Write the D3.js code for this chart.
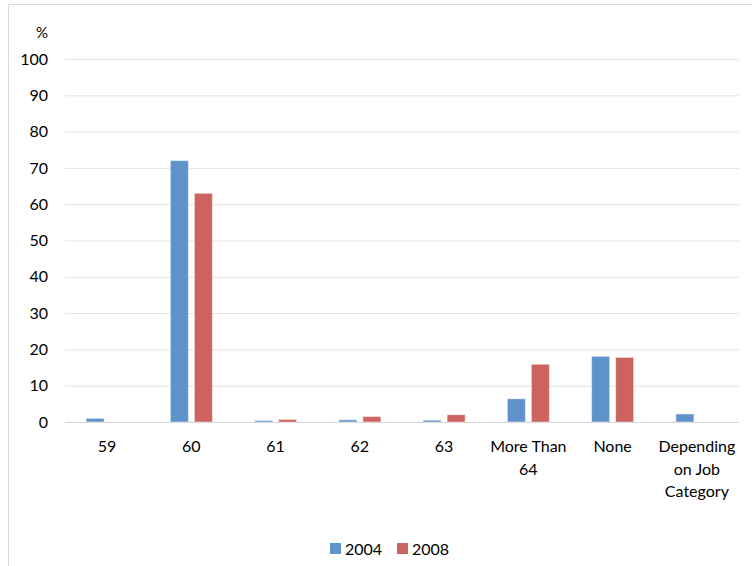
<!DOCTYPE html>
<html>
<head>
<meta charset="utf-8">
<script src="https://cdn.jsdelivr.net/npm/d3@7"></script>
<style>
  html, body { margin: 0; padding: 0; background: #fff; }
  svg { display: block; font-family: Lato, "Open Sans", sans-serif; }
</style>
</head>
<body>
<svg id="chart" width="752" height="566"></svg>
<script>
// Retirement age categories and the share (%) reported in each survey year
const categories = ["59", "60", "61", "62", "63", "More Than 64", "None", "Depending on Job Category"];
const categoryLines = [["59"], ["60"], ["61"], ["62"], ["63"], ["More Than", "64"], ["None"], ["Depending", "on Job", "Category"]];
const years = ["2004", "2008"];
const values2004 = [1.0, 72, 0.4, 0.6, 0.5, 6.4, 18.1, 2.2];
const values2008 = [0, 63, 0.7, 1.5, 2.0, 15.9, 17.8, 0];
const yTicks = [0, 10, 20, 30, 40, 50, 60, 70, 80, 90, 100];
const colors = ["#5E93CB", "#CC635E"];

const svg = d3.select("#chart");

// outer frame (extends past the right and bottom edges)
svg.append("rect")
  .attr("x", 8.5).attr("y", 4.5)
  .attr("width", 760).attr("height", 580)
  .attr("fill", "none").attr("stroke", "#D9D9D9");

const margin = { left: 65, right: 13, top: 59, bottom: 144 };
const width = 752 - margin.left - margin.right;
const height = 566 - margin.top - margin.bottom;

const g = svg.append("g").attr("transform", `translate(${margin.left},${margin.top})`);

const x = d3.scaleBand().domain(categories).range([0, width]).paddingInner(0).paddingOuter(0);
const x1 = d3.scaleBand().domain(years).range([x.bandwidth() / 2 - 21, x.bandwidth() / 2 + 21]).paddingInner(0.25);
const y = d3.scaleLinear().domain([0, 100]).range([height, 0]);

// horizontal gridlines
const yAxis = d3.axisLeft(y).tickValues(yTicks).tickSize(-width).tickPadding(17);
const ya = g.append("g").call(yAxis);
ya.select(".domain").remove();
ya.selectAll(".tick line").attr("stroke", "#E3E3E3").attr("stroke-width", 1);
ya.selectAll(".tick text").attr("fill", "#000").attr("font-size", 16).attr("font-family", "Lato, sans-serif");
ya.selectAll(".tick").filter(d => d === 0).select("line").attr("stroke", "#D4D4D4");

// unit label
g.append("text").attr("x", -23).attr("y", y(100) - 21)
  .attr("text-anchor", "middle").attr("font-size", 15).attr("fill", "#000").text("%");

// bars
const series = [values2004, values2008];
const groups = g.selectAll(".cat").data(categories).join("g")
  .attr("class", "cat")
  .attr("transform", d => `translate(${x(d)},0)`);

groups.each(function (c, i) {
  const sel = d3.select(this);
  years.forEach((yr, k) => {
    const v = series[k][i];
    if (v <= 0) return;
    sel.append("rect")
      .attr("x", x1(yr))
      .attr("width", x1.bandwidth())
      .attr("y", y(v))
      .attr("height", y(0) - y(v))
      .attr("fill", colors[k])
      .attr("stroke", "rgba(255,255,255,0.45)")
      .attr("stroke-width", 1);
  });
});

// category labels
groups.append("text")
  .attr("text-anchor", "middle")
  .attr("font-size", 16)
  .attr("fill", "#000")
  .selectAll("tspan")
  .data((d, i) => categoryLines[i])
  .join("tspan")
  .attr("x", x.bandwidth() / 2)
  .attr("y", (d, j) => height + 30 + j * 22.5)
  .text(d => d);

// legend
const legend = svg.append("g").attr("transform", "translate(330,543)");
years.forEach((yr, k) => {
  const lx = k * 67;
  legend.append("rect").attr("x", lx).attr("y", 0).attr("width", 11).attr("height", 11).attr("fill", colors[k]);
  legend.append("text").attr("x", lx + 15).attr("y", 11.5)
    .attr("font-size", 16).attr("fill", "#000").text(yr);
});
</script>
</body>
</html>
